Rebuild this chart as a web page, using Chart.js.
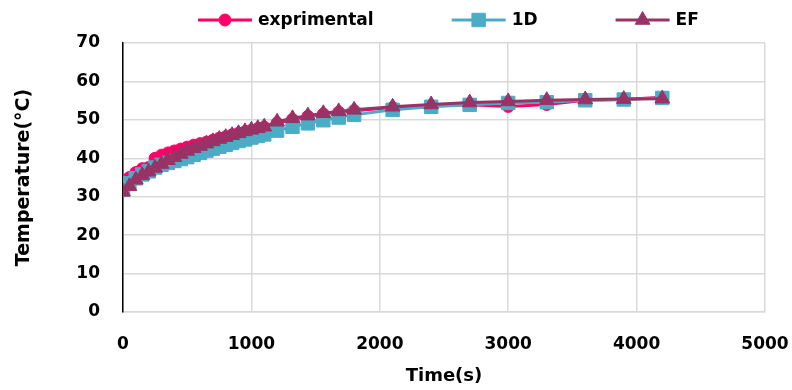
<!DOCTYPE html>
<html>
<head>
<meta charset="utf-8">
<script src="https://cdn.jsdelivr.net/npm/chart.js@4.4.0/dist/chart.umd.min.js"></script>
<style>
  html, body { margin: 0; padding: 0; background: #fff; }
  #wrap { width: 792px; height: 390px; }
</style>
</head>
<body>
<div id="wrap"><canvas id="chart" width="792" height="390"></canvas></div>
<script>
// ---------- data ----------
const TIME_S = [0, 50, 100, 150, 200, 250, 300, 350, 400, 450, 500, 550, 600, 650, 700, 750, 800, 850, 900, 950,
  1000, 1050, 1100, 1200, 1320, 1440, 1560, 1680, 1800, 2100, 2400, 2700, 3000, 3300, 3600, 3900, 4200];

const EXPERIMENTAL = [31.5, 35.0, 36.3, 37.3, 37.6, 40.0, 40.8, 41.4, 41.9, 42.4, 42.9, 43.4, 43.8, 44.2, 44.7, 45.2, 45.6, 46.1, 46.5, 46.9,
  47.3, 47.7, 48.1, 49.2, 50.1, 50.9, 51.5, 52.0, 52.4, 53.2, 53.7, 53.9, 53.5, 54.0, 55.1, 55.3, 55.9];

const ONE_D = [31.8, 33.5, 34.8, 35.8, 36.6, 37.6, 38.3, 38.8, 39.3, 39.8, 40.3, 40.9, 41.4, 42.0, 42.5, 43.0, 43.5, 44.0, 44.5, 44.9,
  45.4, 45.8, 46.2, 47.2, 48.2, 49.1, 49.9, 50.6, 51.3, 52.6, 53.4, 53.9, 54.4, 54.6, 55.1, 55.3, 55.7];

const EF = [31.3, 32.7, 34.4, 35.6, 36.5, 37.5, 38.5, 39.5, 40.3, 41.1, 41.9, 42.6, 43.2, 43.8, 44.4, 45.0, 45.5, 46.0, 46.5, 47.0,
  47.4, 47.8, 48.2, 49.5, 50.4, 51.1, 51.7, 52.2, 52.6, 53.4, 54.0, 54.5, 54.8, 55.1, 55.3, 55.4, 55.5];

const SERIES_LABELS = ['exprimental', '1D', 'EF'];
const X_TICKS = [0, 1000, 2000, 3000, 4000, 5000];
const Y_TICKS = [0, 10, 20, 30, 40, 50, 60, 70];

const FONT = '"DejaVu Sans", sans-serif';

function pts(arr){ return TIME_S.map((t, i) => ({ x: t, y: arr[i] })); }

// legend drawn like Excel: a short line with the marker in its middle
const lineLegend = {
  id: 'lineLegend',
  afterDraw(chart){
    const ctx = chart.ctx;
    const y = 20;
    let x = 198;
    ctx.save();
    ctx.font = 'bold 17px ' + FONT;
    ctx.textBaseline = 'middle';
    ctx.textAlign = 'left';
    chart.data.datasets.forEach(ds => {
      ctx.strokeStyle = ds.borderColor;
      ctx.lineWidth = 3;
      ctx.beginPath(); ctx.moveTo(x, y); ctx.lineTo(x + 54, y); ctx.stroke();
      ctx.fillStyle = ds.pointBackgroundColor;
      ctx.strokeStyle = ds.pointBorderColor;
      ctx.lineWidth = 1;
      Chart.helpers.drawPoint(ctx, { pointStyle: ds.pointStyle, radius: ds.pointRadius, rotation: 0, borderWidth: 1 }, x + 27, y);
      ctx.fillStyle = '#000';
      ctx.fillText(ds.label, x + 60, y + 1);
      x += 60 + ctx.measureText(ds.label).width + 78;
    });
    ctx.restore();
  }
};

function series(label, data, color, style, radius, order){
  return {
    label, data: pts(data), order,
    borderColor: color, backgroundColor: color,
    pointBackgroundColor: color, pointBorderColor: color,
    pointStyle: style, pointRadius: radius, pointBorderWidth: 1,
    borderWidth: 3, tension: 0, fill: false
  };
}

new Chart(document.getElementById('chart'), {
  type: 'line',
  data: {
    datasets: [
      series(SERIES_LABELS[0], EXPERIMENTAL, '#FF0066', 'circle', 6, 3),
      series(SERIES_LABELS[1], ONE_D, '#4BACC6', 'rect', 9.5, 2),
      series(SERIES_LABELS[2], EF, '#993366', 'triangle', 8.5, 1)
    ]
  },
  options: {
    responsive: false,
    animation: false,
    layout: { padding: { top: 43, right: 27, bottom: 0, left: 0 } },
    plugins: { legend: { display: false }, tooltip: { enabled: false } },
    scales: {
      x: {
        type: 'linear',
        min: X_TICKS[0], max: X_TICKS[X_TICKS.length - 1],
        ticks: { stepSize: X_TICKS[1] - X_TICKS[0], padding: 22, color: '#000',
                 callback: v => String(v),
                 font: { family: FONT, size: 17, weight: 'bold' } },
        grid: { color: '#D9D9D9', lineWidth: 1.5, drawTicks: false },
        border: { color: '#D9D9D9', width: 1.5 },
        title: { display: true, text: 'Time(s)', color: '#000',
                 font: { family: FONT, size: 18, weight: 'bold' }, padding: { top: 0, bottom: 3 } },
        afterFit: s => { s.height = 78; s.paddingRight = 24; s.paddingLeft = 0; }
      },
      y: {
        min: Y_TICKS[0], max: Y_TICKS[Y_TICKS.length - 1],
        ticks: { stepSize: Y_TICKS[1] - Y_TICKS[0], padding: 23, color: '#000',
                 callback: v => String(v),
                 font: { family: FONT, size: 17, weight: 'bold' } },
        grid: { color: '#D9D9D9', lineWidth: 1.5, drawTicks: false },
        border: { color: '#000', width: 1.5 },
        title: { display: true, text: 'Temperature(°C)', color: '#000',
                 font: { family: FONT, size: 19, weight: 'bold' }, padding: { top: 13, bottom: 0 } },
        afterFit: s => { s.width = 123; }
      }
    }
  },
  plugins: [lineLegend]
});
</script>
</body>
</html>
